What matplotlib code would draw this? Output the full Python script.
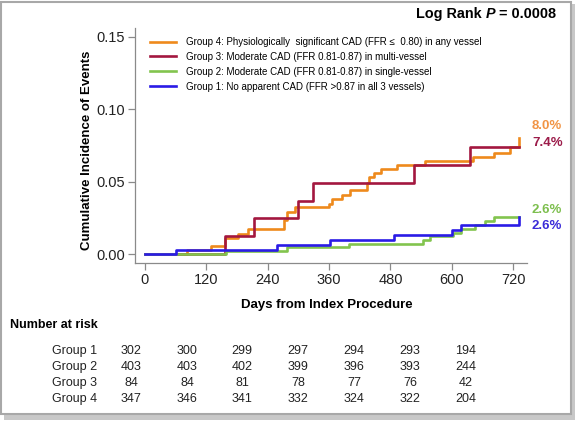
import matplotlib
matplotlib.use("Agg")
import matplotlib.pyplot as plt
from matplotlib.patches import Rectangle

plt.rcParams["font.family"] = ["Liberation Sans", "DejaVu Sans"]

# Kaplan-Meier style cumulative incidence (step curves)
g1_days = [0, 61, 258, 361, 486, 601, 618, 732]
g1_vals = [0, 0.0033, 0.0066, 0.0100, 0.0133, 0.0166, 0.0200, 0.0258]

g2_days = [0, 158, 277, 398, 543, 557, 603, 618, 646, 665, 683, 732]
g2_vals = [0, 0.0025, 0.0050, 0.0074, 0.0099, 0.0124, 0.0150, 0.0177, 0.0203, 0.0230, 0.0258, 0.0258]

g3_days = [0, 157, 214, 299, 328, 526, 636, 732]
g3_vals = [0, 0.0125, 0.0250, 0.0370, 0.0495, 0.0617, 0.0742, 0.0742]

g4_days = [0, 82, 130, 157, 181, 202, 272, 277, 294, 359, 365, 385, 400, 434, 439,
           447, 461, 492, 548, 642, 683, 714, 732]
g4_vals = [0, 0.0029, 0.0058, 0.0115, 0.0144, 0.0175, 0.0240, 0.0292, 0.0325, 0.0350,
           0.0380, 0.0410, 0.0443, 0.0495, 0.0535, 0.0560, 0.0588, 0.0617, 0.0645,
           0.0670, 0.0703, 0.0742, 0.0800]

labels = [
    "Group 4: Physiologically  significant CAD (FFR \u2264  0.80) in any vessel",
    "Group 3: Moderate CAD (FFR 0.81-0.87) in multi-vessel",
    "Group 2: Moderate CAD (FFR 0.81-0.87) in single-vessel",
    "Group 1: No apparent CAD (FFR >0.87 in all 3 vessels)",
]
end_labels = ["8.0%", "7.4%", "2.6%", "2.6%"]

xticks = [0, 120, 240, 360, 480, 600, 720]
yticks = [0.00, 0.05, 0.10, 0.15]

risk_groups = ["Group 1", "Group 2", "Group 3", "Group 4"]
risk_g1 = [302, 300, 299, 297, 294, 293, 194]
risk_g2 = [403, 403, 402, 399, 396, 393, 244]
risk_g3 = [84, 84, 81, 78, 77, 76, 42]
risk_g4 = [347, 346, 341, 332, 324, 322, 204]

line_colors = ["#EE8A1C", "#A3173F", "#82C44E", "#2A1BE6"]
text_colors = ["#F19445", "#9C1C4A", "#7DBF4E", "#3A2BD8"]

W, H = 575, 423
fig = plt.figure(figsize=(W / 100, H / 100), dpi=100)

# frame with a little drop shadow
fig.patches.append(Rectangle((4 / W, 1 - 420 / H), 571 / W, 416 / H, transform=fig.transFigure,
                             facecolor="#c8c8c8", edgecolor="none", zorder=-3))
fig.patches.append(Rectangle((1 / W, 1 - 414 / H), 570 / W, 412 / H, transform=fig.transFigure,
                             facecolor="white", edgecolor="#a8a8a8", linewidth=1.5, zorder=-2))

ax = fig.add_axes([135 / W, 1 - 263 / H, 392 / W, 235 / H])
ax.patch.set_alpha(0)

series = [(g4_days, g4_vals), (g3_days, g3_vals), (g2_days, g2_vals), (g1_days, g1_vals)]
handles = []
for (d, v), c, lab in zip(series, line_colors, labels):
    h, = ax.step(d, v, where="post", color=c, linewidth=1.9, label=lab)
    handles.append(h)

ax.set_xlim(-19.5, 747)
ax.set_ylim(-0.0059, 0.1562)
ax.set_xticks(xticks)
ax.set_yticks(yticks)
ax.set_yticklabels([f"{t:.2f}" for t in yticks])
for s in ["top", "right"]:
    ax.spines[s].set_visible(False)
for s in ["left", "bottom"]:
    ax.spines[s].set_color("#8a8a8a")
    ax.spines[s].set_linewidth(0.9)
ax.tick_params(direction="out", length=5, width=0.9, color="#8a8a8a",
               labelsize=10.5, labelcolor="#222222", pad=2)

ax.set_ylabel("Cumulative Incidence of Events", fontsize=9.5, fontweight="bold")
ax.yaxis.set_label_coords(-0.107, 0.48)
ax.set_xlabel("Days from Index Procedure", fontsize=9.5, fontweight="bold")
ax.xaxis.set_label_coords(0.49, -0.155)

# end-of-curve percentages
end_y = [126, 143, 210, 226]
for lab, c, yp in zip(end_labels, text_colors, end_y):
    fig.text(532 / W, 1 - yp / H, lab, color=c, fontsize=9.5, fontweight="bold",
             ha="left", va="center")

fig.legend(handles=handles, loc="upper left", bbox_to_anchor=(150 / W, 1 - 37 / H),
           frameon=False, fontsize=7, handlelength=2.7, handletextpad=1.0,
           labelspacing=0.5, borderpad=0, borderaxespad=0)

# Log Rank P value, right aligned, italic P
fig.canvas.draw()
r = fig.canvas.get_renderer()
ty = 1 - 14 / H
t3 = fig.text(556 / W, ty, " = 0.0008", fontsize=10.4, fontweight="bold", ha="right", va="center")
x3 = t3.get_window_extent(r).x0
t2 = fig.text(x3 / W, ty, "P", fontsize=10.4, fontweight="bold", style="italic", ha="right", va="center")
x2 = t2.get_window_extent(r).x0
fig.text(x2 / W, ty, "Log Rank ", fontsize=10.4, fontweight="bold", ha="right", va="center")

# number at risk table
fig.text(10 / W, 1 - 325 / H, "Number at risk", fontsize=9, fontweight="bold", ha="left", va="center")
risk_x = [131, 187, 242, 298, 354, 410, 466]
risk_y = [351, 367, 383, 399]
for g, row, yp in zip(risk_groups, [risk_g1, risk_g2, risk_g3, risk_g4], risk_y):
    fig.text(97 / W, 1 - yp / H, g, fontsize=9, ha="right", va="center", color="#222222")
    for xp, n in zip(risk_x, row):
        fig.text(xp / W, 1 - yp / H, str(n), fontsize=9, ha="center", va="center", color="#222222")

fig.savefig("out.png", dpi=100)
